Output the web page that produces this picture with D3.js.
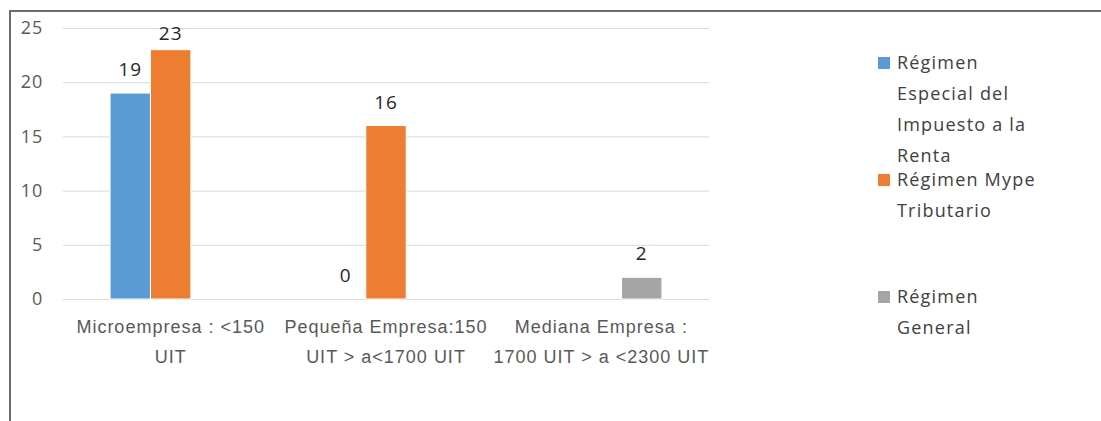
<!DOCTYPE html>
<html>
<head>
<meta charset="utf-8">
<script src="https://cdn.jsdelivr.net/npm/d3@7"></script>
<style>
  html, body { margin: 0; padding: 0; background: #fff; }
  svg { display: block; font-family: "Open Sans", "Noto Sans", sans-serif; }
</style>
</head>
<body>
<svg id="chart" width="1101" height="421"></svg>
<script>
// Company size categories (each entry is one label line)
const categoryLines = [
  ["Microempresa : <150", "UIT"],
  ["Pequeña Empresa:150", "UIT > a<1700 UIT"],
  ["Mediana Empresa :", "1700 UIT > a <2300 UIT"]
];
const categories = categoryLines.map(l => l.join(" "));

// Tax regimes
const seriesNames = [
  "Régimen Especial del Impuesto a la Renta",
  "Régimen Mype Tributario",
  "Régimen General"
];
const legendLines = [
  ["Régimen", "Especial del", "Impuesto a la", "Renta"],
  ["Régimen Mype", "Tributario"],
  ["Régimen", "General"]
];

// Number of companies per regime (null = no bar)
const especialValues = [19, 0, null];
const mypeValues = [23, 16, null];
const generalValues = [null, null, 2];
const seriesValues = [especialValues, mypeValues, generalValues];

const yTicks = [0, 5, 10, 15, 20, 25];
const colors = ["#5b9bd5", "#ed7d31", "#a5a5a5"];

const svg = d3.select("#chart");

// Outer frame (top and left edges)
svg.append("path")
  .attr("d", "M10,421 V11 H1101")
  .attr("fill", "none")
  .attr("stroke", "#6b6b6b")
  .attr("stroke-width", 2);

const plot = { left: 63, right: 709, top: 28, bottom: 299 };

const x0 = d3.scaleBand()
  .domain(categories)
  .range([plot.left, plot.right])
  .paddingInner(0.437)
  .paddingOuter(0.2185);

const x1 = d3.scaleBand()
  .domain(seriesNames)
  .range([0, x0.bandwidth()]);

const y = d3.scaleLinear()
  .domain([0, 25])
  .range([plot.bottom, plot.top]);

// Y axis with gridlines
const yAxis = svg.append("g")
  .attr("transform", `translate(${plot.left},0)`)
  .call(d3.axisLeft(y)
    .tickValues(yTicks)
    .tickSizeInner(-(plot.right - plot.left))
    .tickSizeOuter(0)
    .tickPadding(20));
yAxis.select(".domain").remove();
yAxis.selectAll(".tick line")
  .attr("stroke", "#d9d9d9")
  .attr("stroke-width", 1);
yAxis.selectAll(".tick text")
  .attr("fill", "#595959")
  .attr("font-size", 18)
  .attr("letter-spacing", 0.8)
  .attr("font-family", "Open Sans, sans-serif");

// X axis category labels
const xAxis = svg.append("g")
  .attr("transform", `translate(0,${plot.bottom})`)
  .call(d3.axisBottom(x0).tickSize(0).tickFormat(""));
xAxis.select(".domain").remove();
xAxis.selectAll(".tick").each(function(d, i) {
  const t = d3.select(this).append("text")
    .attr("fill", "#595959")
    .attr("font-size", 18)
    .attr("letter-spacing", 1)
    .attr("text-anchor", "middle");
  categoryLines[i].forEach((line, k) => {
    t.append("tspan")
      .attr("x", 0)
      .attr("y", 28 + k * 30)
      .attr("dy", "0.35em")
      .text(line);
  });
});

// Bars
const barData = [];
seriesValues.forEach((vals, s) => {
  vals.forEach((v, c) => {
    if (v !== null) barData.push({ s, c, v });
  });
});

svg.append("g").selectAll("rect")
  .data(barData)
  .join("rect")
  .attr("x", d => x0(categories[d.c]) + x1(seriesNames[d.s]))
  .attr("y", d => y(d.v))
  .attr("width", x1.bandwidth())
  .attr("height", d => y(0) - y(d.v))
  .attr("fill", d => colors[d.s])
  .attr("stroke", "#fff")
  .attr("stroke-width", d => d.v > 0 ? 1 : 0);

// Value labels above the bars
svg.append("g").selectAll("text")
  .data(barData)
  .join("text")
  .attr("x", d => x0(categories[d.c]) + x1(seriesNames[d.s]) + x1.bandwidth() / 2)
  .attr("y", d => Math.max(y(d.v) - 17, 40))
  .attr("text-anchor", "middle")
  .attr("fill", "#262626")
  .attr("font-size", 19)
  .attr("letter-spacing", 1)
  .text(d => d.v);

// Legend
const legend = svg.append("g").attr("transform", "translate(878,0)");
legendLines.forEach((lines, s) => {
  const y0 = 63 + s * 117;
  legend.append("rect")
    .attr("x", 0)
    .attr("y", y0 - 6)
    .attr("width", 12)
    .attr("height", 12)
    .attr("fill", colors[s]);
  const t = legend.append("text")
    .attr("fill", "#404040")
    .attr("font-size", 18)
    .attr("letter-spacing", 1.2);
  lines.forEach((line, k) => {
    t.append("tspan")
      .attr("x", 19)
      .attr("y", y0 + k * 31)
      .attr("dy", "0.35em")
      .text(line);
  });
});
</script>
</body>
</html>
